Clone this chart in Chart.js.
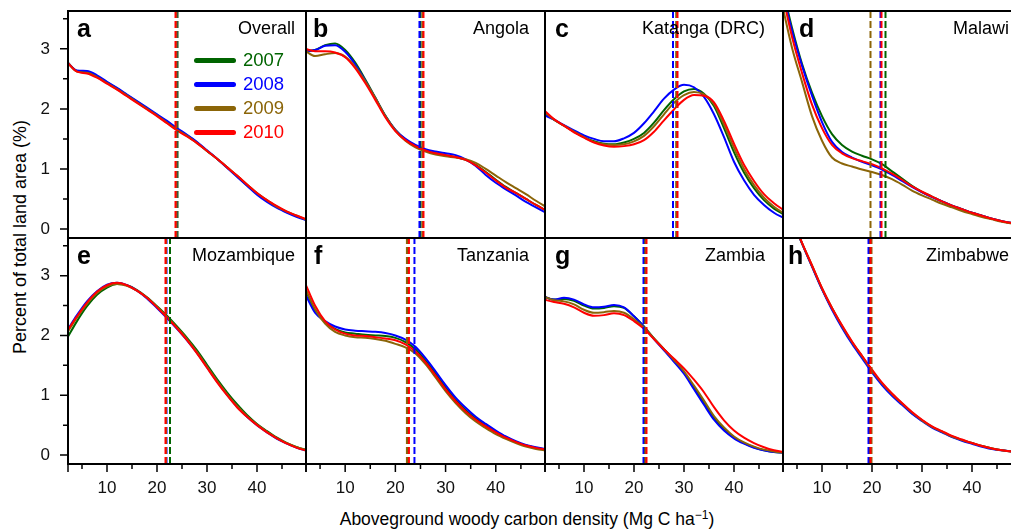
<!DOCTYPE html>
<html>
<head>
<meta charset="utf-8">
<script src="https://cdn.jsdelivr.net/npm/chart.js@4.4.1/dist/chart.umd.min.js"></script>
<style>
  html, body { margin: 0; padding: 0; overflow: hidden; background: #fff; }
  body { position: relative; width: 1011px; height: 531px; font-family: 'Liberation Sans', Arial, Helvetica, sans-serif; color: #000; }
  canvas { position: absolute; }
  .txt { position: absolute; white-space: nowrap; }
  .letter { font-weight: bold; font-size: 25px; line-height: 25px; }
  .region { font-size: 18px; line-height: 18px; text-align: right; width: 200px; }
  .leg-line { position: absolute; height: 5px; border-radius: 3px; }
  .leg-txt { font-size: 18.5px; line-height: 20px; }
  #ytitle { font-size: 18px; line-height: 20px; left: 20px; top: 237px; transform: translate(-50%, -50%) rotate(-90deg); }
  #xtitle { font-size: 17.5px; line-height: 20px; left: 527px; top: 509px; transform: translateX(-50%); }
  #xtitle sup { font-size: 12px; vertical-align: 6px; line-height: 0; }
</style>
</head>
<body>
<div id="ytitle" class="txt">Percent of total land area (%)</div>
<div id="xtitle" class="txt">Aboveground woody carbon density (Mg C ha<sup>&minus;1</sup>)</div>

<script>
"use strict";

/* ─── DATA ─── */
const xs = [2, 4, 6, 8, 10, 12, 14, 16, 18, 20, 22, 24, 26, 28, 30, 32, 34, 36, 38, 40, 42, 44, 46, 48, 50];
const years = ["2007", "2008", "2009", "2010"];
const regions = ["Overall", "Angola", "Katanga (DRC)", "Malawi", "Mozambique", "Tanzania", "Zambia", "Zimbabwe"];
const letters = ["a", "b", "c", "d", "e", "f", "g", "h"];
const yTickLabels = [0, 1, 2, 3];
const yMinorTicks = [0.5, 1.5, 2.5, 3.5];
const xTickLabels = [10, 20, 30, 40];
const xMinorTicks = [5, 15, 25, 35, 45];

// density per year, in order 2007, 2008, 2009, 2010
const overall = [
  [2.78, 2.63, 2.61, 2.54, 2.44, 2.34, 2.23, 2.12, 2.01, 1.90, 1.78, 1.66, 1.56, 1.44, 1.30, 1.17, 1.03, 0.88, 0.73, 0.59, 0.47, 0.37, 0.28, 0.21, 0.15],
  [2.78, 2.64, 2.63, 2.56, 2.45, 2.35, 2.24, 2.13, 2.02, 1.91, 1.80, 1.68, 1.57, 1.45, 1.31, 1.17, 1.02, 0.87, 0.72, 0.57, 0.45, 0.35, 0.27, 0.20, 0.14],
  [2.78, 2.62, 2.60, 2.53, 2.43, 2.33, 2.22, 2.11, 2.00, 1.89, 1.77, 1.65, 1.55, 1.43, 1.30, 1.17, 1.03, 0.89, 0.74, 0.60, 0.48, 0.37, 0.29, 0.22, 0.15],
  [2.78, 2.62, 2.59, 2.52, 2.42, 2.32, 2.21, 2.10, 1.99, 1.88, 1.76, 1.64, 1.54, 1.43, 1.30, 1.17, 1.03, 0.89, 0.74, 0.60, 0.48, 0.38, 0.29, 0.22, 0.16],
];
const angola = [
  [2.96, 2.98, 3.06, 3.09, 2.98, 2.77, 2.49, 2.19, 1.89, 1.65, 1.49, 1.38, 1.31, 1.26, 1.23, 1.20, 1.15, 1.07, 0.95, 0.82, 0.70, 0.60, 0.50, 0.40, 0.31],
  [2.96, 2.98, 3.05, 3.06, 2.95, 2.74, 2.47, 2.18, 1.88, 1.65, 1.50, 1.40, 1.33, 1.29, 1.26, 1.23, 1.16, 1.05, 0.90, 0.77, 0.66, 0.56, 0.45, 0.36, 0.27],
  [2.97, 2.88, 2.91, 2.93, 2.87, 2.70, 2.46, 2.18, 1.88, 1.64, 1.47, 1.36, 1.29, 1.24, 1.21, 1.19, 1.16, 1.10, 1.00, 0.89, 0.78, 0.68, 0.58, 0.47, 0.37],
  [3.00, 2.96, 2.96, 2.94, 2.86, 2.68, 2.43, 2.15, 1.86, 1.63, 1.48, 1.38, 1.31, 1.26, 1.23, 1.20, 1.15, 1.06, 0.94, 0.81, 0.69, 0.60, 0.50, 0.40, 0.31],
];
const katanga = [
  [1.94, 1.82, 1.72, 1.62, 1.53, 1.46, 1.42, 1.41, 1.44, 1.50, 1.60, 1.77, 1.98, 2.16, 2.29, 2.33, 2.25, 2.05, 1.68, 1.28, 0.94, 0.68, 0.48, 0.34, 0.24],
  [1.90, 1.82, 1.73, 1.64, 1.56, 1.50, 1.46, 1.46, 1.51, 1.60, 1.76, 1.96, 2.17, 2.32, 2.40, 2.36, 2.20, 1.91, 1.53, 1.12, 0.81, 0.57, 0.40, 0.27, 0.18],
  [1.96, 1.82, 1.72, 1.62, 1.53, 1.45, 1.41, 1.40, 1.41, 1.46, 1.55, 1.71, 1.91, 2.10, 2.23, 2.28, 2.24, 2.08, 1.74, 1.35, 1.00, 0.73, 0.52, 0.37, 0.26],
  [1.98, 1.83, 1.72, 1.61, 1.52, 1.44, 1.39, 1.37, 1.38, 1.41, 1.48, 1.62, 1.81, 1.99, 2.15, 2.23, 2.22, 2.11, 1.80, 1.42, 1.07, 0.80, 0.58, 0.43, 0.31],
];
const malawi = [
  [4.05, 3.35, 2.75, 2.27, 1.88, 1.58, 1.40, 1.29, 1.22, 1.16, 1.08, 0.96, 0.84, 0.72, 0.62, 0.54, 0.46, 0.39, 0.33, 0.27, 0.22, 0.17, 0.13, 0.10, 0.08],
  [4.00, 3.30, 2.72, 2.22, 1.78, 1.45, 1.28, 1.19, 1.12, 1.06, 0.99, 0.90, 0.80, 0.70, 0.61, 0.53, 0.46, 0.39, 0.33, 0.27, 0.22, 0.17, 0.13, 0.10, 0.08],
  [3.75, 3.02, 2.45, 1.88, 1.47, 1.19, 1.09, 1.04, 0.99, 0.95, 0.90, 0.83, 0.74, 0.64, 0.56, 0.49, 0.42, 0.36, 0.30, 0.25, 0.20, 0.16, 0.12, 0.09, 0.07],
  [3.95, 3.20, 2.60, 2.07, 1.68, 1.40, 1.26, 1.18, 1.13, 1.08, 1.01, 0.92, 0.82, 0.71, 0.62, 0.54, 0.46, 0.39, 0.33, 0.27, 0.22, 0.17, 0.13, 0.10, 0.08],
];
const mozambique = [
  [1.95, 2.24, 2.49, 2.68, 2.80, 2.86, 2.84, 2.76, 2.64, 2.49, 2.33, 2.15, 1.96, 1.75, 1.51, 1.27, 1.05, 0.85, 0.67, 0.52, 0.40, 0.29, 0.20, 0.13, 0.08],
  [2.08, 2.34, 2.57, 2.74, 2.85, 2.88, 2.84, 2.75, 2.62, 2.46, 2.29, 2.11, 1.92, 1.71, 1.47, 1.23, 1.01, 0.81, 0.64, 0.50, 0.38, 0.27, 0.19, 0.12, 0.07],
  [2.04, 2.30, 2.53, 2.71, 2.82, 2.86, 2.83, 2.75, 2.63, 2.48, 2.31, 2.13, 1.94, 1.72, 1.48, 1.24, 1.02, 0.82, 0.65, 0.51, 0.39, 0.28, 0.20, 0.13, 0.08],
  [2.07, 2.32, 2.55, 2.73, 2.84, 2.88, 2.84, 2.75, 2.63, 2.47, 2.30, 2.12, 1.92, 1.70, 1.46, 1.22, 1.00, 0.80, 0.64, 0.50, 0.38, 0.28, 0.19, 0.12, 0.07],
];
const tanzania = [
  [2.78, 2.42, 2.22, 2.11, 2.05, 2.03, 2.01, 2.00, 1.99, 1.96, 1.89, 1.77, 1.58, 1.36, 1.13, 0.92, 0.75, 0.61, 0.49, 0.39, 0.30, 0.22, 0.16, 0.12, 0.09],
  [2.70, 2.38, 2.24, 2.15, 2.10, 2.08, 2.07, 2.06, 2.04, 2.00, 1.93, 1.81, 1.62, 1.40, 1.17, 0.96, 0.79, 0.64, 0.52, 0.41, 0.31, 0.23, 0.17, 0.13, 0.10],
  [2.80, 2.44, 2.20, 2.06, 2.00, 1.97, 1.96, 1.94, 1.91, 1.86, 1.80, 1.70, 1.52, 1.30, 1.07, 0.87, 0.70, 0.56, 0.45, 0.35, 0.27, 0.20, 0.14, 0.10, 0.08],
  [2.88, 2.50, 2.24, 2.10, 2.03, 2.00, 1.99, 1.97, 1.95, 1.92, 1.85, 1.73, 1.55, 1.33, 1.10, 0.90, 0.73, 0.59, 0.48, 0.38, 0.29, 0.22, 0.16, 0.12, 0.09],
];
const zambia = [
  [2.65, 2.60, 2.61, 2.58, 2.50, 2.45, 2.46, 2.49, 2.46, 2.32, 2.15, 1.95, 1.77, 1.58, 1.38, 1.13, 0.87, 0.62, 0.43, 0.29, 0.20, 0.13, 0.08, 0.05, 0.04],
  [2.65, 2.60, 2.63, 2.60, 2.52, 2.47, 2.48, 2.51, 2.47, 2.32, 2.14, 1.94, 1.75, 1.56, 1.36, 1.10, 0.84, 0.59, 0.41, 0.28, 0.19, 0.12, 0.08, 0.05, 0.04],
  [2.65, 2.59, 2.57, 2.52, 2.43, 2.38, 2.39, 2.41, 2.38, 2.27, 2.13, 1.95, 1.77, 1.59, 1.40, 1.16, 0.91, 0.65, 0.46, 0.31, 0.21, 0.14, 0.09, 0.06, 0.04],
  [2.60, 2.56, 2.53, 2.47, 2.38, 2.33, 2.34, 2.37, 2.34, 2.24, 2.11, 1.94, 1.77, 1.61, 1.45, 1.26, 1.05, 0.80, 0.58, 0.41, 0.29, 0.20, 0.13, 0.08, 0.05],
];
const zimbabwe = [
  [4.40, 3.95, 3.54, 3.16, 2.78, 2.45, 2.15, 1.88, 1.65, 1.41, 1.19, 1.01, 0.86, 0.70, 0.58, 0.47, 0.39, 0.31, 0.25, 0.20, 0.15, 0.11, 0.08, 0.06, 0.05],
  [4.40, 3.95, 3.54, 3.15, 2.77, 2.43, 2.13, 1.86, 1.62, 1.38, 1.17, 0.99, 0.84, 0.69, 0.57, 0.46, 0.38, 0.30, 0.24, 0.19, 0.14, 0.10, 0.08, 0.06, 0.04],
  [4.40, 3.96, 3.55, 3.17, 2.79, 2.46, 2.16, 1.89, 1.65, 1.41, 1.20, 1.02, 0.86, 0.71, 0.58, 0.47, 0.39, 0.31, 0.25, 0.20, 0.15, 0.11, 0.08, 0.06, 0.05],
  [4.40, 3.96, 3.55, 3.17, 2.79, 2.46, 2.17, 1.90, 1.66, 1.43, 1.21, 1.03, 0.87, 0.72, 0.59, 0.48, 0.40, 0.32, 0.26, 0.20, 0.15, 0.11, 0.08, 0.06, 0.05],
];

// median carbon density per year (dashed lines), 2007..2010
const medOverall    = [24.1, 23.9, 23.9, 23.7];
const medAngola     = [25.0, 24.8, 25.4, 25.6];
const medKatanga    = [28.5, 27.8, 28.5, 28.7];
const medMalawi     = [22.7, 21.7, 19.7, 21.9];
const medMozambique = [22.6, 21.9, 21.8, 21.7];
const medTanzania   = [22.5, 23.8, 22.3, 22.7];
const medZambia     = [22.1, 21.9, 22.3, 22.5];
const medZimbabwe   = [19.6, 19.3, 19.9, 19.7];

const panelSeries  = [overall, angola, katanga, malawi, mozambique, tanzania, zambia, zimbabwe];
const panelMedians = [medOverall, medAngola, medKatanga, medMalawi, medMozambique, medTanzania, medZambia, medZimbabwe];

/* ─── LAYOUT / STYLE ─── */
const COLORS = ["#006400", "#0000ff", "#8b6508", "#ff0000"];
const COL_EDGES = [68, 306, 545, 783, 1021];
const ROW_EDGES = [11, 238, 464];
const NAME_RIGHT = [295, 529, 765, 1009];
const LETTER_DX = [9, 7, 10, 16, 9, 8, 10, 5];
const X_MIN = 2.2, X_MAX = 49.8, Y_MIN = -0.15, Y_MAX = 3.63;
const Y_AXIS_W = 68, X_AXIS_H = 40, PAD = 32;   // PAD leaves room for label auto-padding

Chart.defaults.font.family = "'Liberation Sans', Arial, Helvetica, sans-serif";
Chart.defaults.font.size = 17;
Chart.defaults.color = "#111";

/* frame + outward tick marks (major long, minor short) */
const frameTicks = {
  id: "frameTicks",
  afterDraw(chart, args, opts) {
    const { ctx, chartArea: a, scales } = chart;
    ctx.save();
    ctx.strokeStyle = "#000";
    ctx.lineWidth = 1.5;
    ctx.beginPath();
    if (opts.showY) {
      yTickLabels.forEach(v => { const y = scales.y.getPixelForValue(v); ctx.moveTo(a.left - 8, y); ctx.lineTo(a.left, y); });
      yMinorTicks.forEach(v => { const y = scales.y.getPixelForValue(v); ctx.moveTo(a.left - 5, y); ctx.lineTo(a.left, y); });
    }
    if (opts.showX) {
      xTickLabels.forEach(v => { const x = scales.x.getPixelForValue(v); ctx.moveTo(x, a.bottom); ctx.lineTo(x, a.bottom + 8); });
      xMinorTicks.forEach(v => { const x = scales.x.getPixelForValue(v); ctx.moveTo(x, a.bottom); ctx.lineTo(x, a.bottom + 5); });
      [a.left, a.right].forEach(x => { ctx.moveTo(x, a.bottom); ctx.lineTo(x, a.bottom + 8); });
    }
    ctx.stroke();
    ctx.lineWidth = 2;
    ctx.strokeRect(a.left, a.top, a.right - a.left, a.bottom - a.top);
    ctx.restore();
  }
};

function curveSets(series) {
  return series.map((vals, k) => ({
    label: years[k],
    data: vals.map((v, i) => ({ x: xs[i], y: v })),
    borderColor: COLORS[k],
    borderWidth: 2,
    pointRadius: 0,
    fill: false,
    cubicInterpolationMode: "monotone",
    order: 7 - k,
  }));
}

function medianSets(meds) {
  return meds.map((m, k) => ({
    label: years[k] + " median",
    data: [{ x: m, y: Y_MIN }, { x: m, y: Y_MAX }],
    borderColor: COLORS[k],
    borderWidth: 2,
    borderDash: [7, 3],
    pointRadius: 0,
    fill: false,
    order: 3 - k,
  }));
}

function addText(cls, text, left, top, color) {
  const d = document.createElement("div");
  d.className = "txt " + cls;
  d.textContent = text;
  d.style.left = left + "px";
  d.style.top = top + "px";
  if (color) d.style.color = color;
  document.body.appendChild(d);
  return d;
}

/* ─── PANELS ─── */
panelSeries.forEach((series, p) => {
  const col = p % 4, row = Math.floor(p / 4);
  const showY = col === 0, showX = row === 1;
  const padL = showY ? 0 : PAD, padB = showX ? 0 : PAD;
  const left = COL_EDGES[col] - (showY ? Y_AXIS_W : PAD);
  const top = ROW_EDGES[row] - PAD;
  const right = COL_EDGES[col + 1] + PAD;
  const bottom = ROW_EDGES[row + 1] + (showX ? X_AXIS_H : PAD);

  const cv = document.createElement("canvas");
  cv.width = right - left;
  cv.height = bottom - top;
  cv.style.left = left + "px";
  cv.style.top = top + "px";
  document.body.appendChild(cv);

  new Chart(cv, {
    type: "line",
    data: { datasets: [...curveSets(series), ...medianSets(panelMedians[p])] },
    options: {
      responsive: false,
      animation: false,
      events: [],
      layout: {
        autoPadding: false,
        padding: { left: padL, right: PAD, top: PAD, bottom: padB },
      },
      plugins: {
        legend: { display: false },
        tooltip: { enabled: false },
        frameTicks: { showY, showX },
      },
      scales: {
        x: {
          type: "linear", min: X_MIN, max: X_MAX,
          display: showX,
          grid: { display: false, drawTicks: false },
          border: { display: false },
          ticks: { padding: 14, maxRotation: 0 },
          afterBuildTicks: s => { s.ticks = xTickLabels.map(v => ({ value: v })); },
          afterFit: showX ? s => { s.height = X_AXIS_H; } : undefined,
        },
        y: {
          type: "linear", min: Y_MIN, max: Y_MAX,
          display: showY,
          grid: { display: false, drawTicks: false },
          border: { display: false },
          ticks: { padding: 18 },
          afterBuildTicks: s => { s.ticks = yTickLabels.map(v => ({ value: v })); },
          afterFit: showY ? s => { s.width = Y_AXIS_W; } : undefined,
        },
      },
    },
    plugins: [frameTicks],
  });

  addText("letter", letters[p], COL_EDGES[col] + LETTER_DX[p], ROW_EDGES[row] + 5);
  addText("region", regions[p], NAME_RIGHT[col] - 200, ROW_EDGES[row] + 8);
});

/* ─── LEGEND (panel a) ─── */
years.forEach((yr, k) => {
  const cy = 60 + k * 24;
  const ln = document.createElement("div");
  ln.className = "leg-line";
  ln.style.left = "194px";
  ln.style.width = "42px";
  ln.style.top = (cy - 2.5) + "px";
  ln.style.background = COLORS[k];
  document.body.appendChild(ln);
  addText("leg-txt", yr, 243, cy - 10, COLORS[k]);
});
</script>
</body>
</html>
